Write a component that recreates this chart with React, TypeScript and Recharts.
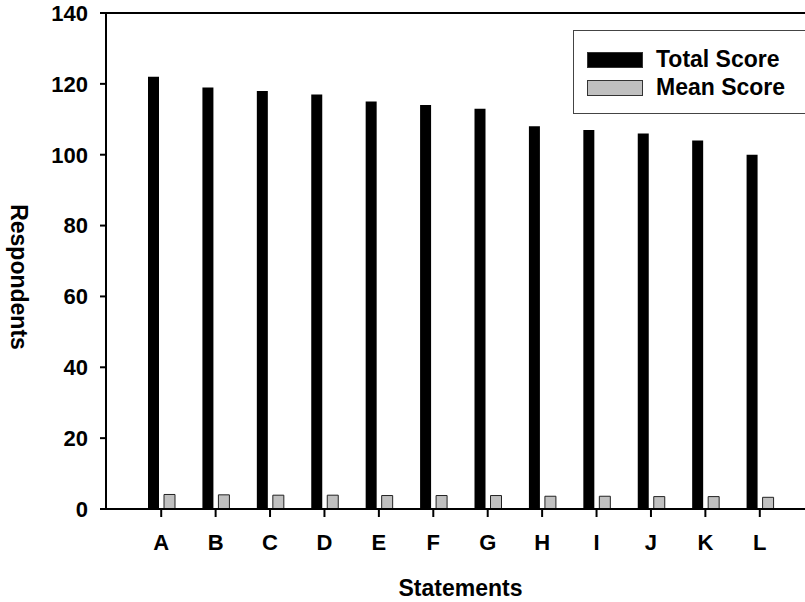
import { BarChart, Bar, XAxis, YAxis, Legend, ReferenceLine, Label } from 'recharts'

const categories = ['A', 'B', 'C', 'D', 'E', 'F', 'G', 'H', 'I', 'J', 'K', 'L']
const totalScore = [122, 119, 118, 117, 115, 114, 113, 108, 107, 106, 104, 100]
const meanScore = [4.1, 4.0, 3.9, 3.9, 3.8, 3.8, 3.8, 3.6, 3.6, 3.5, 3.5, 3.3]
const yTicks = [0, 20, 40, 60, 80, 100, 120, 140]

const data = categories.map((name, i) => ({
  name,
  total: totalScore[i],
  mean: meanScore[i]
}))

const FONT = "Arial, 'Liberation Sans', sans-serif"

function LegendBox() {
  const row = (fill: string, text: string, top: number) => (
    <div style={{ position: 'absolute', left: 13, top, height: 15, display: 'flex', alignItems: 'center' }}>
      <div style={{ width: 54, height: 14, background: fill, border: '1px solid #333', flex: 'none' }} />
      <span style={{ marginLeft: 13, fontFamily: FONT, fontWeight: 'bold', fontSize: 23, lineHeight: 1, color: '#000', whiteSpace: 'nowrap' }}>
        {text}
      </span>
    </div>
  )
  return (
    <div
      style={{
        position: 'relative',
        width: 250,
        height: 84,
        border: '1.5px solid #444',
        boxSizing: 'border-box',
        background: '#fff'
      }}
    >
      {row('#000', 'Total Score', 21)}
      {row('#c0c0c0', 'Mean Score', 49)}
    </div>
  )
}

export default function App() {
  return (
    <div style={{ position: 'absolute', left: 0, top: 0, width: 805, height: 602, overflow: 'hidden', background: '#fff' }}>
      <BarChart
        width={815}
        height={602}
        data={data}
        margin={{ top: 13, right: 0, bottom: 0, left: 0 }}
        barSize={11}
        barGap={5}
      >
        <XAxis
          dataKey="name"
          height={93}
          padding={{ left: 28, right: 28 }}
          axisLine={{ stroke: '#000', strokeWidth: 2 }}
          tickLine={{ stroke: '#000', strokeWidth: 2 }}
          tickSize={8}
          tickMargin={17}
          tick={{ fill: '#000', fontSize: 22, fontWeight: 'bold', fontFamily: FONT }}
        >
          <Label
            value="Statements"
            position="insideBottom"
            offset={6}
            style={{ fill: '#000', fontSize: 23, fontWeight: 'bold', fontFamily: FONT }}
          />
        </XAxis>
        <YAxis
          width={106}
          domain={[0, 140]}
          ticks={yTicks}
          interval={0}
          axisLine={{ stroke: '#000', strokeWidth: 2 }}
          tickLine={{ stroke: '#000', strokeWidth: 2 }}
          tickSize={6}
          tickMargin={12}
          tick={{ fill: '#000', fontSize: 22, fontWeight: 'bold', fontFamily: FONT }}
        >
          <Label
            content={() => (
              <text
                transform="translate(19,277) rotate(90)"
                textAnchor="middle"
                dominantBaseline="central"
                style={{ fill: '#000', fontSize: 23, fontWeight: 'bold', fontFamily: FONT }}
              >
                Respondents
              </text>
            )}
          />
        </YAxis>
        <ReferenceLine y={140} stroke="#000" strokeWidth={2} />
        <Legend
          layout="horizontal"
          verticalAlign="middle"
          align="center"
          wrapperStyle={{ position: 'absolute', left: 573, top: 30, width: 250, height: 84 }}
          content={() => <LegendBox />}
        />
        <Bar dataKey="total" name="Total Score" fill="#000" isAnimationActive={false} />
        <Bar dataKey="mean" name="Mean Score" fill="#c0c0c0" stroke="#222" strokeWidth={1} isAnimationActive={false} />
      </BarChart>
    </div>
  )
}
